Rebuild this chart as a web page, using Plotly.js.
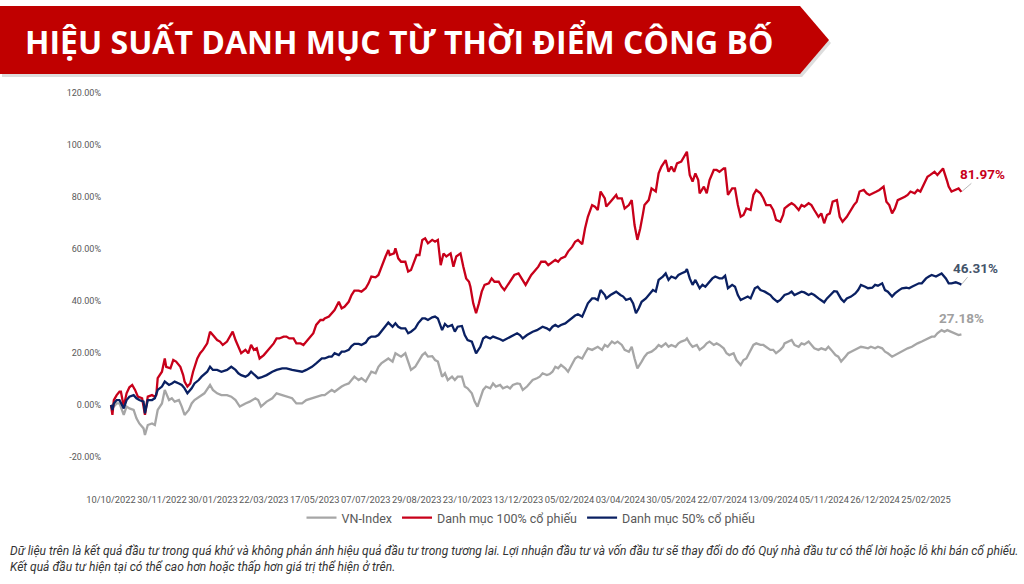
<!DOCTYPE html>
<html>
<head>
<meta charset="utf-8">
<script src="https://cdn.plot.ly/plotly-3.0.1.min.js"></script>
<style>
  html, body { margin: 0; padding: 0; background: #ffffff; }
  #chart { width: 1024px; height: 584px; }
</style>
</head>
<body>
<div id="chart"></div>
<script>
// ---------------- DATA ----------------
const chartTitle = 'HIỆU SUẤT DANH MỤC TỪ THỜI ĐIỂM CÔNG BỐ';
const seriesNames = ['VN-Index', 'Danh mục 100% cổ phiếu', 'Danh mục 50% cổ phiếu'];
const tickDates = ['10/10/2022','30/11/2022','30/01/2023','22/03/2023','17/05/2023','07/07/2023','29/08/2023',
  '23/10/2023','13/12/2023','05/02/2024','03/04/2024','30/05/2024','22/07/2024','13/09/2024','05/11/2024',
  '26/12/2024','25/02/2025'];
const tickStepDays = 36; // trading days between axis labels
const yTicks = [-20, 0, 20, 40, 60, 80, 100, 120];
const footnote = 'Dữ liệu trên là kết quả đầu tư trong quá khứ và không phản ánh hiệu quả đầu tư trong tương lai. Lợi nhuận đầu tư và vốn đầu tư sẽ thay đổi do đó Quý nhà đầu tư có thể lời hoặc lỗ khi bán cổ phiếu.<br>Kết quả đầu tư hiện tại có thể cao hơn hoặc thấp hơn giá trị thể hiện ở trên.';

// Danh mục 100% cổ phiếu (trading-day index, % return)
const p100Day = [0,1,2,4,6,7,9,11,13,15,17,19,22,24,26,29,31,32,33,36,38,39,42,44,46,49,51,52,54,56,58,61,63,65,68,70,72,75,77,79,82,84,86,88,90,92,95,97,99,101,103,105,108,110,112,115,117,119,122,124,126,129,131,134,136,138,141,143,145,148,150,
  151,154,156,158,161,163,165,168,170,172,175,177,180,182,184,187,189,191,194,196,197,200,201,203,205,208,210,212,214,216,218,220,222,224,227,229,231,233,235,237,240,242,244,247,249,251,253,254,256,258,260,262,264,267,269,271,274,276,278,281,283,285,288,290,293,295,297,300,302,304,307,309,311,
  314,316,318,321,323,326,328,330,333,335,337,340,342,344,346,349,350,353,355,357,358,361,363,366,368,370,372,374,376,377,380,382,385,387,389,392,394,396,398,400,403,405,407,409,411,413,415,416,419,421,423,426,428,430,433,434,436,439,441,443,445,447,449,452,454,456,459,461,463,466,468,470,473,475,
  476,479,481,483,486,488,490,493,495,497,500,502,504,506,508,510,513,515,517,520,522,525,527,529,532,534,536,539,541,543,546,548,550,552,554,556,559,561,563,565,568,570,572,575,577,579,582,584,587,588,591,592,594,597,599,601];
const p100Pct = [0,-3.8,1.9,3.8,5.1,5.1,-0.6,4.5,6.8,7.7,5.8,3.2,2.6,-3.8,3.2,3.8,3.2,3.8,10.3,12.8,17.9,14.7,14.1,17.3,16.7,14.7,11.5,9.0,7.1,8.3,12.8,17.9,19.9,21.2,23.7,28.2,26.9,25.0,24.4,23.1,24.4,26.3,28.2,25.0,22.4,19.9,21.2,19.9,23.1,21.2,21.8,17.9,19.2,20.5,21.8,23.7,25.6,25.6,26.3,26.3,25.6,25.6,23.7,23.7,23.1,24.4,26.3,27.6,30.8,32.7,32.7,
  33.3,34.0,35.3,36.5,39.7,37.2,37.8,39.7,42.3,44.0,44.0,43.6,44.9,46.8,49.4,49.1,50.0,53.2,57.1,59.6,57.7,58.3,60.3,56.4,55.1,55.1,51.3,51.9,54.5,57.7,57.7,63.5,64.1,62.2,63.5,62.8,63.5,53.8,58.3,57.1,58.3,53.2,57.1,58.3,53.2,48.7,47.4,45.5,39.1,35.3,39.1,43.6,46.2,46.8,48.7,47.4,47.4,45.5,44.2,46.8,48.7,50.0,50.6,48.7,46.2,48.1,50.0,51.9,53.2,55.1,55.1,53.8,54.5,
  55.8,55.1,56.4,57.1,59.0,60.9,62.8,63.5,61.8,67.9,72.4,76.9,76.3,75.0,82.1,79.5,76.3,78.2,79.5,80.8,79.5,79.5,75.6,76.9,78.8,69.2,63.5,67.9,73.7,76.9,78.8,83.3,82.1,89.1,91.7,94.2,89.7,91.7,89.7,92.9,93.6,95.5,97.4,88.5,85.9,89.1,86.5,81.4,84.0,81.4,86.5,90.4,90.4,89.7,91.0,91.0,80.8,83.3,83.3,76.9,72.4,73.1,75.6,75.0,80.8,82.7,81.4,79.5,76.9,76.9,75.0,71.2,70.5,73.1,
  75.6,76.9,77.6,76.9,75.0,76.9,76.3,77.6,76.9,75.0,72.4,73.7,69.9,73.1,73.7,78.2,78.8,72.4,70.5,72.4,74.4,76.9,78.2,82.1,82.7,81.4,80.8,81.4,82.1,82.7,84.0,78.2,76.9,73.7,75.6,78.8,79.5,80.1,80.8,82.1,81.4,82.7,82.1,85.9,87.8,88.5,89.7,88.5,90.4,91.0,85.9,84.0,82.1,82.7,83.3,81.97];

// Danh mục 50% cổ phiếu
const p50Day = [0,1,2,4,6,9,11,13,16,18,20,23,24,26,29,31,33,36,38,41,43,45,48,50,52,54,57,59,62,64,68,70,72,75,78,82,85,88,90,92,95,97,99,102,104,106,110,114,117,121,124,128,131,135,138,142,145,149,
  151,154,156,158,161,163,165,168,170,172,175,177,180,182,184,187,189,191,194,196,199,201,203,205,208,210,212,215,217,220,222,224,227,229,231,234,236,238,241,243,245,248,250,252,255,257,258,261,263,265,268,270,272,275,277,280,282,284,287,289,291,294,296,298,301,303,305,308,310,312,
  314,316,318,321,323,326,328,330,333,335,337,340,342,344,346,349,350,353,355,357,360,362,364,367,369,371,373,375,378,380,383,385,387,390,392,394,396,399,401,403,406,407,409,411,413,416,418,420,423,425,427,430,432,434,436,439,441,443,445,447,450,452,455,457,459,462,464,466,468,471,473,
  476,479,481,483,486,488,490,493,495,497,500,502,504,506,509,511,513,516,518,520,523,526,528,530,533,535,538,540,542,545,547,549,552,554,557,559,562,564,566,569,571,573,576,578,580,583,585,587,590,592,594,597,599,601];
const p50Pct = [0,-1.9,0.6,1.9,1.9,-1.3,1.9,3.2,3.8,2.6,1.9,1.3,-3.2,1.9,1.9,2.6,5.8,7.1,9.0,7.7,8.3,9.0,8.3,7.7,6.4,4.5,6.4,8.3,9.6,10.9,12.8,14.7,13.5,13.5,12.8,13.5,14.7,13.5,12.2,11.5,10.9,11.5,12.8,11.5,10.3,10.6,11.5,12.8,13.5,14.1,14.1,13.5,13.2,12.8,13.5,14.7,16.0,17.9,
  17.9,18.6,18.6,19.9,19.2,20.5,20.5,21.2,22.7,23.5,23.5,23.1,24.0,25.6,26.3,26.3,26.9,28.2,30.4,31.7,30.1,31.4,30.1,29.5,29.5,27.6,28.2,29.5,31.4,33.3,33.3,32.7,33.7,34.0,33.3,28.8,31.2,30.1,30.8,28.2,30.1,30.4,26.9,25.0,24.4,21.2,19.9,22.4,25.6,26.3,25.6,26.3,26.0,25.3,24.7,25.6,26.3,26.9,27.6,26.9,25.6,26.9,27.6,28.2,28.8,29.5,30.1,29.5,28.8,30.1,
  30.8,30.1,30.8,31.4,32.3,33.3,34.4,34.9,34.0,36.5,39.1,41.0,41.0,40.4,44.2,42.3,41.0,42.3,42.9,43.6,42.3,41.7,40.4,41.0,39.1,35.3,37.2,39.7,41.0,42.3,44.2,43.6,48.1,49.4,50.6,48.1,49.4,48.7,50.0,50.6,51.3,52.3,48.7,46.2,48.1,44.9,46.2,45.5,47.4,48.7,49.4,48.7,48.7,49.7,44.9,46.2,45.5,42.3,40.4,41.0,41.7,41.0,44.9,45.5,44.2,43.6,42.9,42.3,41.0,39.7,40.4,
  42.3,42.9,43.6,42.3,42.9,43.6,43.3,42.3,42.9,42.3,41.0,40.4,39.5,41.0,42.9,43.8,43.6,40.8,39.7,41.0,41.7,42.9,44.2,46.2,45.5,44.9,45.1,46.2,45.9,46.8,44.2,43.6,41.7,42.9,44.2,44.9,45.1,44.9,45.5,46.2,46.8,46.8,48.7,49.4,50.0,49.4,50.0,50.6,48.7,46.8,46.8,47.2,46.8,46.31];

// VN-Index
const vnDay = [0,2,4,6,9,11,13,16,18,20,23,24,26,29,31,33,36,38,41,43,45,48,50,52,55,57,59,63,66,70,72,75,78,82,85,88,91,95,98,102,104,106,110,114,117,121,124,128,131,135,138,142,145,149,
  151,154,156,158,161,163,165,168,170,172,175,177,180,182,184,187,189,191,194,196,199,201,203,205,208,210,212,215,217,220,222,224,227,229,231,234,236,238,241,243,245,248,250,252,255,257,259,261,263,265,268,270,272,275,277,280,282,284,287,289,291,294,296,298,301,303,305,308,310,312,
  314,316,318,321,323,326,328,330,333,335,337,340,342,344,347,349,351,354,356,358,361,363,366,368,370,372,375,377,379,382,385,387,389,392,394,396,399,401,403,406,407,409,411,414,416,419,421,423,426,428,430,433,435,437,440,442,445,447,449,452,454,456,459,461,463,466,468,470,473,475,
  476,479,481,483,486,488,490,493,495,497,500,502,505,507,509,512,514,516,519,521,523,526,528,530,533,535,537,540,542,545,547,549,552,554,556,559,561,563,566,568,570,573,575,577,580,582,584,587,589,591,594,596,599,601];
const vnPct = [0,-0.6,0.6,0.6,-3.8,-0.6,-1.3,-1.9,-5.1,-7.1,-9.0,-11.5,-7.7,-7.1,-7.7,-1.9,0.6,5.8,1.9,2.6,1.3,1.9,-0.6,-3.8,-1.9,0.6,1.9,3.2,4.5,7.7,5.8,4.5,3.8,3.8,3.2,1.9,-0.6,0.6,1.3,2.6,1.9,-0.6,1.3,2.6,4.5,3.8,3.2,2.6,0.6,0.6,1.9,2.6,3.2,3.8,
  3.8,5.1,5.8,5.1,6.4,7.1,7.7,8.3,9.6,10.9,9.6,10.3,9.0,10.9,12.8,12.2,14.7,16.0,17.3,17.9,16.7,19.9,19.2,18.6,19.9,16.7,13.5,14.7,16.7,19.2,20.1,18.6,18.8,17.3,16.7,10.9,12.2,9.6,10.9,9.6,10.9,10.9,7.1,6.4,4.5,1.3,-0.6,2.6,5.8,7.1,6.4,8.3,7.1,7.7,6.4,7.1,6.4,7.7,8.3,8.1,5.8,7.1,8.3,9.6,10.3,10.9,12.2,11.5,11.9,12.8,
  14.7,14.1,15.4,14.1,12.8,16.0,17.9,18.6,17.9,19.9,21.8,21.2,21.8,22.4,21.2,23.1,22.4,24.4,23.7,24.4,23.1,21.2,20.5,22.4,17.9,14.1,16.7,18.6,19.9,20.5,21.8,23.1,22.4,23.7,22.4,23.1,22.4,23.7,24.4,25.0,25.6,23.7,22.4,23.1,21.2,22.4,23.7,24.4,23.1,23.7,23.1,21.8,19.9,19.2,19.9,17.3,15.4,17.3,17.9,21.2,23.1,23.7,23.1,23.1,22.4,21.2,21.2,19.9,21.2,22.4,
  23.7,24.4,25.0,23.1,22.4,23.7,23.3,24.4,23.1,21.8,21.2,21.8,21.2,22.4,21.2,19.2,18.6,16.7,18.6,19.9,20.5,21.2,21.8,22.4,22.1,21.8,22.4,21.8,22.4,21.8,20.5,19.9,18.6,19.2,19.9,20.5,21.2,21.8,22.4,23.1,23.7,24.4,25.0,25.6,26.3,26.3,27.6,28.8,28.2,28.8,28.2,27.6,26.9,27.18];

const colors = { vn: '#A6A6A6', p100: '#C8001A', p50: '#0A2062', banner: '#C00000', text: '#595959' };

// ---------------- LAYOUT HELPERS (figure pixel -> paper) ----------------
const W = 1024, H = 584, M = { l: 104, r: 24, t: 93, b: 91 };
const pw = W - M.l - M.r, ph = H - M.t - M.b;
const px = x => (x - M.l) / pw;
const py = y => (H - M.b - y) / ph;

const bannerPts = [[0, 6], [800, 6], [829, 40], [800, 74], [0, 74]];
const pathOf = (pts, dx, dy) => 'M ' + pts.map(p => px(p[0] + dx) + ',' + py(p[1] + dy)).join(' L ') + ' Z';

const last = a => a[a.length - 1];

const traces = [
  { x: vnDay, y: vnPct, name: seriesNames[0], type: 'scatter', mode: 'lines',
    line: { color: colors.vn, width: 2.3 } },
  { x: p100Day, y: p100Pct, name: seriesNames[1], type: 'scatter', mode: 'lines',
    line: { color: colors.p100, width: 2.3 } },
  { x: p50Day, y: p50Pct, name: seriesNames[2], type: 'scatter', mode: 'lines',
    line: { color: colors.p50, width: 2.3 } }
];

const layout = {
  width: W, height: H,
  margin: M,
  paper_bgcolor: '#ffffff', plot_bgcolor: '#ffffff',
  font: { family: 'Roboto, "Noto Sans", sans-serif', color: colors.text },
  showlegend: true,
  legend: {
    orientation: 'h', x: px(531), xanchor: 'center', y: py(518), yanchor: 'middle',
    font: { size: 12.5, color: colors.text }, itemwidth: 30, tracegroupgap: 0,
    bgcolor: 'rgba(0,0,0,0)'
  },
  xaxis: {
    range: [(M.l - 111) / 1.415, (W - M.r - 111) / 1.415],
    tickmode: 'array',
    tickvals: tickDates.map((d, i) => i * tickStepDays),
    ticktext: tickDates,
    tickangle: 0,
    showgrid: false, zeroline: false, showline: false, ticks: '',
    tickfont: { size: 9.3, color: colors.text },
    automargin: false, fixedrange: true
  },
  yaxis: {
    range: [120 - ph / 2.6, 120],
    tickmode: 'array',
    tickvals: yTicks,
    ticktext: yTicks.map(v => v.toFixed(2) + '%'),
    showgrid: false, zeroline: false, showline: false, ticks: '',
    ticklabelstandoff: 2,
    tickfont: { size: 9, color: colors.text },
    automargin: false, fixedrange: true
  },
  shapes: [
    { type: 'path', xref: 'paper', yref: 'paper', path: pathOf(bannerPts, 2, 3),
      fillcolor: 'rgba(120,120,120,0.25)', line: { width: 0 }, layer: 'below' },
    { type: 'path', xref: 'paper', yref: 'paper', path: pathOf(bannerPts, 0, 0),
      fillcolor: colors.banner, line: { width: 0 }, layer: 'above' }
  ],
  annotations: [
    { xref: 'paper', yref: 'paper', x: px(399), y: py(41), xanchor: 'center', yanchor: 'middle',
      text: '<b>' + chartTitle + '</b>', showarrow: false,
      font: { family: '"Open Sans", "Noto Sans", sans-serif', size: 32, color: '#ffffff' } },
    { xref: 'x', yref: 'y', x: last(p100Day), y: last(p100Pct),
      text: '<b>' + last(p100Pct).toFixed(2) + '%</b>', showarrow: true, arrowhead: 0,
      arrowwidth: 0.8, arrowcolor: '#A6A6A6', ax: 21, ay: -18, standoff: 1,
      font: { size: 13.5, color: colors.p100 } },
    { xref: 'x', yref: 'y', x: last(p50Day), y: last(p50Pct),
      text: '<b>' + last(p50Pct).toFixed(2) + '%</b>', showarrow: true, arrowhead: 0,
      arrowwidth: 0.8, arrowcolor: '#A6A6A6', ax: 14, ay: -17, standoff: 1,
      font: { size: 13.5, color: '#44546A' } },
    { xref: 'x', yref: 'y', x: last(vnDay), y: last(vnPct),
      text: '<b>' + last(vnPct).toFixed(2) + '%</b>', showarrow: false,
      xshift: 0, yshift: 16,
      font: { size: 13.5, color: '#A0A0A0' } },
    { xref: 'paper', yref: 'paper', x: px(8), y: py(559), xanchor: 'left', yanchor: 'middle',
      align: 'left', text: '<i>' + footnote + '</i>', showarrow: false,
      font: { size: 12, color: '#333333' } }
  ]
};

Plotly.newPlot('chart', traces, layout, { displayModeBar: false, staticPlot: true });
</script>
</body>
</html>
